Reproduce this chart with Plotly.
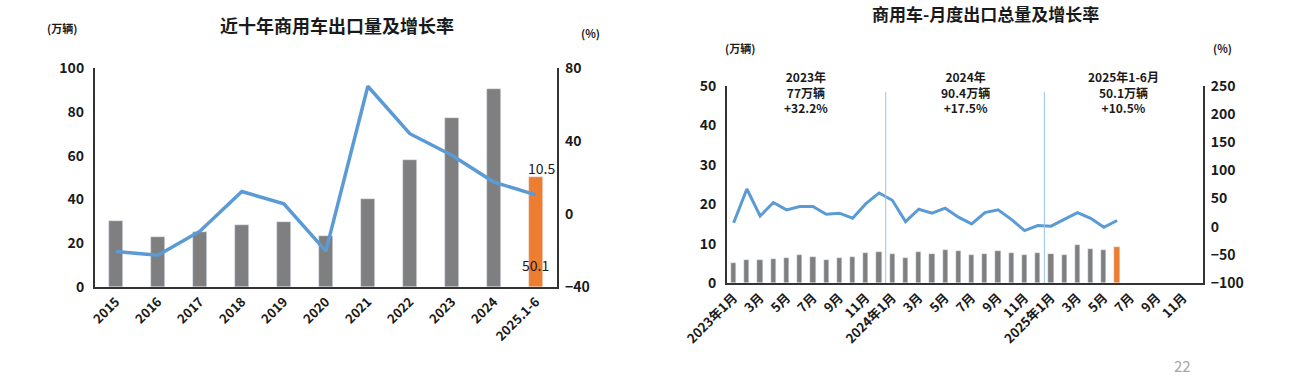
import plotly.graph_objects as go

# ---------- left chart data ----------
years = ["2015", "2016", "2017", "2018", "2019", "2020", "2021", "2022", "2023", "2024", "2025.1-6"]
annual_export = [30.1, 22.9, 25.0, 28.1, 29.8, 23.2, 40.0, 58.0, 77.0, 90.4, 50.1]
annual_growth = [-20.6, -22.6, -9.4, 12.3, 5.6, -20.3, 70.0, 44.0, 32.2, 17.5, 10.5]
annual_colors = ["#7f7f7f"] * 10 + ["#ed7d31"]

# ---------- right chart data ----------
month_ids = [f"{y}-{m:02d}" for y in (2023, 2024, 2025) for m in range(1, 13)]
month_tick_ids = month_ids[::2]
month_tick_text = ["2023年1月", "3月", "5月", "7月", "9月", "11月",
                   "2024年1月", "3月", "5月", "7月", "9月", "11月",
                   "2025年1月", "3月", "5月", "7月", "9月", "11月"]
monthly_export = [5.0, 5.8, 5.9, 6.1, 6.3, 7.0, 6.6, 5.9, 6.3, 6.7, 7.5, 7.9,
                  7.4, 6.3, 7.8, 7.4, 8.4, 8.2, 7.0, 7.4, 8.2, 7.6, 7.1, 7.6,
                  7.4, 7.0, 9.6, 8.6, 8.4, 9.1]
monthly_growth = [7, 67, 19, 43, 30, 36, 36, 22, 24, 15, 41, 60,
                  47, 9, 31, 24, 33, 17, 5, 25, 30, 13, -7, 2,
                  1, 13, 25, 15, -1, 11]
monthly_colors = ["#7f7f7f"] * 29 + ["#ed7d31"]
year_notes = ["2023年<br>77万辆<br>+32.2%", "2024年<br>90.4万辆<br>+17.5%", "2025年1-6月<br>50.1万辆<br>+10.5%"]
note_centers = [5.5, 17.5, 29.5]
year_breaks = [11.5, 23.5]

FONT = "Noto Sans CJK SC"
BLUE = "#5b9bd5"
TXT = "#1a1a1a"
AXIS = "#333333"

fig = go.Figure()

# left chart
fig.add_trace(go.Bar(x=years, y=annual_export, marker_color=annual_colors, width=0.32,
                     xaxis="x", yaxis="y", showlegend=False))
fig.add_trace(go.Scatter(x=years, y=annual_growth, mode="lines", line=dict(color=BLUE, width=3.5),
                         xaxis="x", yaxis="y2", showlegend=False))

# right chart
fig.add_trace(go.Bar(x=month_ids[:len(monthly_export)], y=monthly_export, marker_color=monthly_colors,
                     width=0.4, xaxis="x2", yaxis="y3", showlegend=False))
fig.add_trace(go.Scatter(x=month_ids[:len(monthly_growth)], y=monthly_growth, mode="lines",
                         line=dict(color=BLUE, width=3), xaxis="x2", yaxis="y4", showlegend=False))

tickfont = dict(family=FONT, size=14, color=TXT, weight="bold")
xtickfont = dict(family=FONT, size=13, color=TXT, weight="bold")
axis_common = dict(showline=True, linecolor=AXIS, linewidth=2, showgrid=False, zeroline=False,
                   ticks="", tickfont=tickfont, automargin=False)

fig.update_layout(
    width=1290, height=378,
    margin=dict(l=0, r=0, t=0, b=0, autoexpand=False),
    paper_bgcolor="white", plot_bgcolor="white",
    bargap=0,
    xaxis=dict(domain=[0.0736, 0.432], anchor="y", type="category", tickangle=-45,
               showline=True, linecolor=AXIS, linewidth=2, showgrid=False, ticks="",
               tickfont=xtickfont, automargin=False),
    yaxis=dict(domain=[0.2407, 0.8201], anchor="x", range=[0, 100], dtick=20,
               ticklabelstandoff=6, **axis_common),
    yaxis2=dict(overlaying="y", side="right", anchor="x", range=[-40, 80], dtick=40,
                ticklabelstandoff=3, **axis_common),
    xaxis2=dict(domain=[0.5636, 0.9326], anchor="y3", type="category", tickangle=-45,
                categoryorder="array", categoryarray=month_ids, range=[-0.5, len(month_ids) - 0.5],
                tickmode="array", tickvals=month_tick_ids, ticktext=month_tick_text,
                showline=True, linecolor=AXIS, linewidth=2, showgrid=False, ticks="",
                tickfont=xtickfont, automargin=False),
    yaxis3=dict(domain=[0.2513, 0.7725], anchor="x2", range=[0, 50], dtick=10,
                ticklabelstandoff=6, **axis_common),
    yaxis4=dict(overlaying="y3", side="right", anchor="x2", range=[-100, 250], dtick=50,
                ticklabelstandoff=3, **axis_common),
)


def paper_text(text, px, py, size, bold=True, color=TXT):
    return dict(text=text, x=px / 1290, y=1 - py / 378, xref="paper", yref="paper",
                xanchor="center", yanchor="middle", showarrow=False,
                font=dict(family=FONT, size=size, color=color, weight="bold" if bold else "normal"))


ann = []
ann.append(paper_text("近十年商用车出口量及增长率", 337, 25, 18))
ann.append(paper_text("(万辆)", 62, 28, 11))
ann.append(paper_text("(%)", 590, 33, 11))
ann.append(dict(text=f"{annual_growth[-1]}", x=years[-1], y=annual_export[-1], xref="x", yref="y",
                xshift=6, yshift=9, showarrow=False, font=dict(family=FONT, size=14, color=TXT)))
ann.append(dict(text=f"{annual_export[-1]}", x=years[-1], y=0, xref="x", yref="y",
                yshift=22, showarrow=False, font=dict(family=FONT, size=14, color=TXT)))

ann.append(paper_text("商用车-月度出口总量及增长率", 985, 14, 17))
ann.append(paper_text("(万辆)", 740, 48, 11))
ann.append(paper_text("(%)", 1222, 48, 11))
for note, c in zip(year_notes, note_centers):
    ann.append(dict(text=note, x=c, y=1 - 92 / 378, xref="x2", yref="paper", showarrow=False,
                    xanchor="center", yanchor="middle",
                    font=dict(family=FONT, size=12, color=TXT, weight="bold"), align="center"))
ann.append(paper_text("22", 1182, 365, 15, bold=False, color="#a6a6a6"))
fig.update_layout(annotations=ann)

shapes = []
for b in year_breaks:
    shapes.append(dict(type="line", x0=b, x1=b, xref="x2", y0=0, y1=0.97, yref="y3 domain",
                       line=dict(color="#9dc3e6", width=1)))
fig.update_layout(shapes=shapes)

fig.write_html("out.html", config={"displayModeBar": False},
               post_script="document.body.style.margin='0';")
